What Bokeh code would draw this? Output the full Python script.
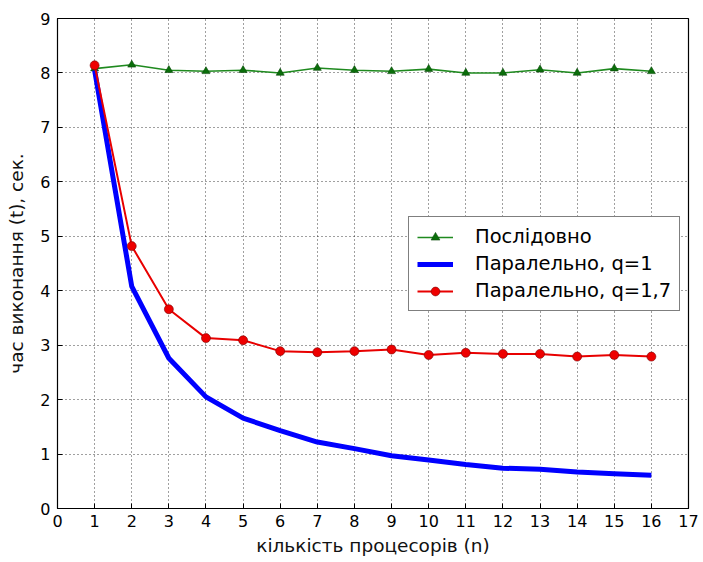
from bokeh.plotting import figure
from bokeh.models import Range1d, FixedTicker, Legend, LegendItem
from bokeh.embed import file_html
from bokeh.resources import INLINE

processors = list(range(1, 17))
sequential = [8.08, 8.15, 8.05, 8.03, 8.05, 8.00, 8.09, 8.05, 8.03, 8.07, 8.00, 8.00, 8.06, 8.00, 8.08, 8.03]
parallel_q1 = [8.05, 4.08, 2.76, 2.05, 1.66, 1.43, 1.22, 1.10, 0.97, 0.89, 0.81, 0.74, 0.72, 0.67, 0.64, 0.61]
parallel_q17 = [8.14, 4.82, 3.66, 3.13, 3.09, 2.89, 2.87, 2.89, 2.92, 2.82, 2.86, 2.84, 2.84, 2.79, 2.82, 2.79]
x_ticks = list(range(0, 18))
y_ticks = list(range(0, 10))
labels = ["Послідовно", "Паралельно, q=1", "Паралельно, q=1,7"]
x_label = "кількість процесорів (n)"
y_label = "час виконання (t), сек."

FONT = "DejaVu Sans"

p = figure(width=700, height=560, output_backend="svg", toolbar_location=None,
           x_range=Range1d(0, 17), y_range=Range1d(0, 9),
           min_border_left=57, min_border_right=12, min_border_top=18, min_border_bottom=52)
p.outline_line_color = "black"
p.outline_line_width = 1.2

for ax in (p.xaxis[0], p.yaxis[0]):
    ax.major_label_text_font = FONT
    ax.major_label_text_font_size = "16px"
    ax.major_label_text_color = "black"
    ax.axis_label_text_font = FONT
    ax.axis_label_text_font_size = "18.5px"
    ax.axis_label_text_font_style = "normal"
    ax.axis_label_text_color = "#111111"
    ax.major_tick_in = 5
    ax.major_tick_out = 0
    ax.minor_tick_in = 0
    ax.minor_tick_out = 0
    ax.axis_line_color = "black"
p.xaxis.ticker = FixedTicker(ticks=x_ticks)
p.yaxis.ticker = FixedTicker(ticks=y_ticks)
p.xaxis.axis_label = x_label
p.yaxis.axis_label = y_label
p.xaxis.major_label_standoff = 6
p.yaxis.major_label_standoff = 7
p.xaxis.axis_label_standoff = 5
p.yaxis.axis_label_standoff = 10

p.xgrid.ticker = FixedTicker(ticks=x_ticks)
p.ygrid.ticker = FixedTicker(ticks=y_ticks)
for g in (p.xgrid[0], p.ygrid[0]):
    g.grid_line_color = "black"
    g.grid_line_dash = "1 3"
    g.grid_line_alpha = 0.75
    g.grid_line_width = 1

g_line = p.line(processors, sequential, line_color="#1f8a1f", line_width=1.6)
g_mark = p.scatter(processors, sequential, marker="triangle", size=8,
                   fill_color="#0a6e0a", line_color="#0a4a0a", line_width=0.6)
b_line = p.line(processors, parallel_q1, line_color="#0000ff", line_width=5)
r_line = p.line(processors, parallel_q17, line_color="#e80000", line_width=2)
r_mark = p.scatter(processors, parallel_q17, marker="circle", size=9,
                   fill_color="#ee0000", line_color="#7a0000", line_width=0.6)

legend = Legend(items=[
    LegendItem(label=labels[0], renderers=[g_line, g_mark]),
    LegendItem(label=labels[1], renderers=[b_line]),
    LegendItem(label=labels[2], renderers=[r_line, r_mark]),
], location=(351, 197))
legend.label_text_font = FONT
legend.label_text_font_size = "19.5px"
legend.label_text_color = "black"
legend.border_line_color = "black"
legend.border_line_width = 1.2
legend.background_fill_color = "white"
legend.background_fill_alpha = 1
legend.glyph_width = 36
legend.glyph_height = 22
legend.label_standoff = 22
legend.label_height = 22
legend.spacing = 4
legend.padding = 8
legend.margin = 0
p.add_layout(legend, "center")

open("out.html", "w").write(file_html(p, INLINE))
